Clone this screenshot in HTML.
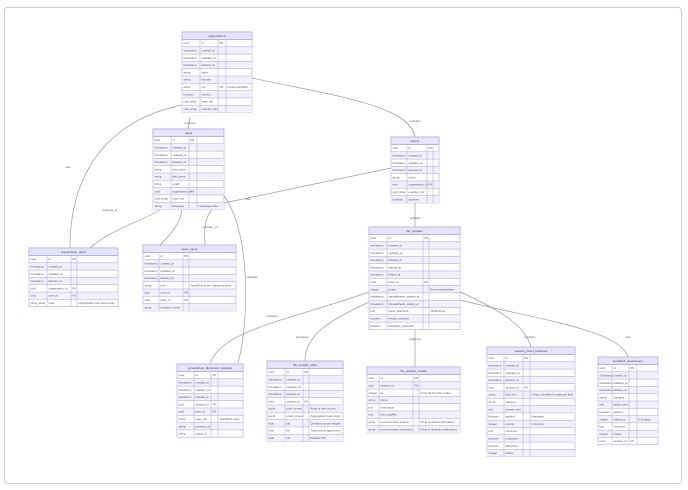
<!DOCTYPE html>
<html><head><meta charset="utf-8"><style>
html,body{margin:0;padding:0;background:#fff;}
svg{display:block;font-family:"Liberation Sans",sans-serif;}
</style></head><body>
<svg id="s" width="688" height="490" xmlns="http://www.w3.org/2000/svg">
<rect x="4.5" y="7.5" width="677" height="476" rx="3" fill="#fff" stroke="#cfcfcf" stroke-width="1"/>
<g fill="none" stroke="#9a9a9a" stroke-width="0.7">
<path d="M182,105 C110,120 70,170 70,248"/>
<path d="M190,117 L188,129"/>
<path d="M252,78 C330,95 410,105 415,137"/>
<path d="M162,209 C140,222 110,230 90,248"/>
<path d="M182,209 C180,225 170,235 160,245"/>
<path d="M391,168 L224,203 C200,210 205,235 205,245"/>
<path d="M224,196 C250,230 250,320 238,363"/>
<path d="M415,202 L415,227"/>
<path d="M369,292 C290,320 220,330 210,364"/>
<path d="M369,302 C330,320 305,335 305,361"/>
<path d="M415,328 L415,367"/>
<path d="M460,292 C500,310 525,325 531,347"/>
<path d="M460,300 C540,320 620,330 628,357"/>
</g>
<g id="t"></g>
<g font-size="3" fill="#555" text-anchor="middle">
<text x="68" y="168">has</text>
<text x="190" y="124">employs</text>
<text x="415" y="122">contains</text>
<text x="110" y="211">belongs_to</text>
<text x="210" y="228">member_of</text>
<text x="248" y="200">has</text>
<text x="252" y="278">uploads</text>
<text x="415" y="219">uploads</text>
<text x="272" y="317">contains</text>
<text x="302" y="338">produces</text>
<text x="415" y="340">analyzes</text>
<text x="530" y="338">contains</text>
<text x="628" y="338">has</text>
</g>
</svg>
<script>
var T=[
["organizations",182,32,70,10,[18,18,8],[["uuid","id","PK",""],["timestamp","created_at","",""],["timestamp","updated_at","",""],["timestamp","deleted_at","",""],["string","name","",""],["string","domain","",""],["string","cnt","UK","Unique identifier"],["boolean","verified","",""],["uuid_array","team_ids","",""],["uuid_array","member_ids","",""]]],
["users",153,129,71,10,[18,18,8],[["uuid","id","PK",""],["timestamp","created_at","",""],["timestamp","updated_at","",""],["timestamp","deleted_at","",""],["string","first_name","",""],["string","last_name","",""],["string","email","",""],["uuid","organization_id","FK",""],["uuid_array","team_ids","",""],["string","language","","Language code"]]],
["teams",391,137,48,8,[16,20,6],[["uuid","id","PK",""],["timestamp","created_at","",""],["timestamp","updated_at","",""],["timestamp","deleted_at","",""],["string","name","",""],["uuid","organization_id","FK",""],["uuid_array","member_ids","",""],["boolean","archived","",""]]],
["file_uploads",369,227,91,13,[18,36,6],[["uuid","id","PK",""],["timestamp","created_at","",""],["timestamp","updated_at","",""],["timestamp","deleted_at","",""],["timestamp","started_at","",""],["timestamp","ended_at","",""],["uuid","team_id","FK",""],["integer","phase","","Enumerated phase"],["timestamp","spreadsheets_started_at","",""],["timestamp","spreadsheets_ended_at","",""],["text","users_launched","","JSON array"],["boolean","results_checked","",""],["boolean","feedback_requested","",""]]],
["organization_users",29,248,89,7,[18,24,6],[["uuid","id","PK",""],["timestamp","created_at","",""],["timestamp","updated_at","",""],["timestamp","deleted_at","",""],["uuid","organization_id","FK",""],["uuid","user_id","FK",""],["string_array","roles","","Organization role enum array"]]],
["team_users",143,245,93,8,[16,24,6],[["uuid","id","PK",""],["timestamp","created_at","",""],["timestamp","updated_at","",""],["timestamp","deleted_at","",""],["string","role","","TeamRole enum: leader/member"],["uuid","user_id","FK",""],["uuid","team_id","FK",""],["string","invitation_email","",""]]],
["spreadsheet_dimension_analysis",177,364,66,9,[17,17,7],[["uuid","id","PK",""],["timestamp","created_at","",""],["timestamp","updated_at","",""],["timestamp","deleted_at","",""],["uuid","session_id","FK",""],["uuid","user_id","FK",""],["string","user_role","","TeamRole value"],["string","question_id","",""],["string","option_id","",""]]],
["file_session_stats",267,361,76,10,[18,18,6],[["uuid","id","PK",""],["timestamp","created_at","",""],["timestamp","updated_at","",""],["timestamp","deleted_at","",""],["uuid","session_id","FK",""],["jsonb","total_scores","","Array of user scores"],["jsonb","mean_scores","","Aggregated mean score"],["float","std","","Deviation across ranges"],["float","fw","","Total column agreement"],["float","rwi","","Relative FPI"]]],
["file_session_results",367,367,93,7,[12,34,6],[["uuid","id","PK",""],["uuid","session_id","FK",""],["integer","qs","","From file formula x index"],["string","name","",""],["text","description","",""],["text","time_qualifier","",""],["jsonb","recommended_actions","","Array of actions with status"],["jsonb","recommended_dynamics","","Array of dynamic notifications"]]],
["session_sheet_feedback",487,347,88,14,[17,19,7],[["uuid","id","PK",""],["timestamp","created_at","",""],["timestamp","updated_at","",""],["timestamp","deleted_at","",""],["uuid","session_id","FK",""],["string","field_key","","Unique identifier for selected field"],["string","category","",""],["text","answer_text","",""],["boolean","applied","","Feedback"],["integer","priority","","0-Scoring"],["text","comment","",""],["boolean","evaluated","",""],["boolean","flaunched","",""],["integer","phase","",""]]],
["feedback_assessment",598,357,60,11,[14,17,8],[["uuid","id","PK",""],["timestamp","created_at","",""],["timestamp","updated_at","",""],["timestamp","deleted_at","",""],["string","category","",""],["text","action_item","",""],["boolean","applied","",""],["integer","efficiency","","0-5 rating"],["text","comment","",""],["integer","phase","",""],["uuid","session_id","FK",""]]]
];
var g=document.getElementById("t"),h="";
T.forEach(function(t){var n=t[0],x=t[1],y=t[2],w=t[3],c=t[5],rows=t[6];
var hh=7.5,rh=7.3,H=hh+rh*rows.length;
h+='<rect x="'+x+'" y="'+y+'" width="'+w+'" height="'+H+'" fill="#fff" stroke="#a9a3e0" stroke-width="0.6"/>';
h+='<rect x="'+x+'" y="'+y+'" width="'+w+'" height="'+hh+'" fill="#e6e4fb" stroke="#a9a3e0" stroke-width="0.6"/>';
h+='<text x="'+(x+w/2)+'" y="'+(y+5)+'" font-size="3" fill="#444" text-anchor="middle">'+n+'</text>';
var cx=[x,x+c[0],x+c[0]+c[1],x+c[0]+c[1]+c[2]];
rows.forEach(function(r,i){var yy=y+hh+i*rh;
if(i%2==1)h+='<rect x="'+x+'" y="'+yy+'" width="'+w+'" height="'+rh+'" fill="#f1f0fd"/>';
h+='<line x1="'+x+'" y1="'+yy+'" x2="'+(x+w)+'" y2="'+yy+'" stroke="#a9a3e0" stroke-width="0.5"/>';
for(var k=0;k<4;k++)h+='<text x="'+(cx[k]+1.5)+'" y="'+(yy+4.7)+'" font-size="2.8" fill="#555">'+r[k]+'</text>';});
for(var k=1;k<4;k++)h+='<line x1="'+cx[k]+'" y1="'+(y+hh)+'" x2="'+cx[k]+'" y2="'+(y+H)+'" stroke="#a9a3e0" stroke-width="0.5"/>';
});
g.innerHTML=h;
</script>
</body></html>
